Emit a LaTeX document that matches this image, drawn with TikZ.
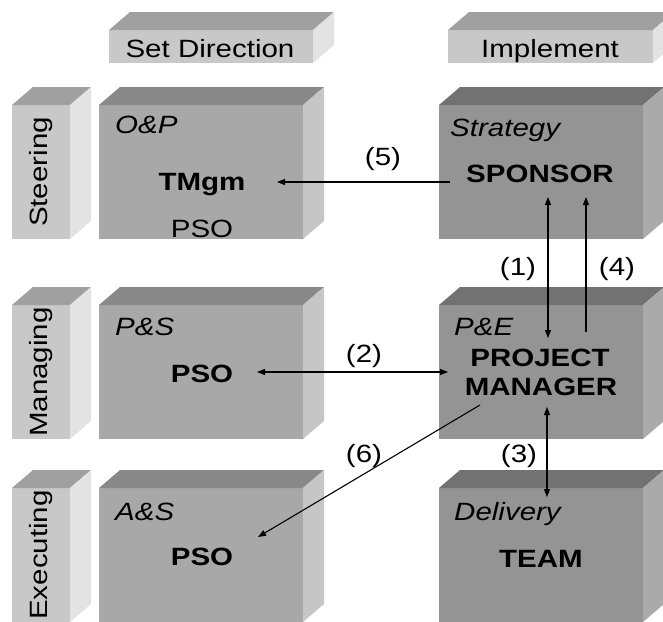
\documentclass[tikz,border=0pt]{standalone}
\usepackage{fontspec}
\setmainfont{Liberation Sans}[FakeStretch=1.18]
\usetikzlibrary{arrows.meta,calc}
\definecolor{lfront}{HTML}{C8C8C8}
\definecolor{ltop}{HTML}{A0A0A0}
\definecolor{lside}{HTML}{E3E3E3}
\definecolor{mfront}{HTML}{A8A8A8}
\definecolor{mtop}{HTML}{888888}
\definecolor{mside}{HTML}{C6C6C6}
\definecolor{dfront}{HTML}{949494}
\definecolor{dtop}{HTML}{727272}
\definecolor{dside}{HTML}{AAAAAA}
\newcommand{\mycube}[6]{%
  \node[facebox, fill=#6front, minimum width=#4pt, minimum height=#5pt, anchor=north west] (#1) at (#2,#3) {};
  \fill[#6top] (#1.north west) -- ++(21,-18) -- ++(#4,0) -- (#1.north east) -- cycle;
  \fill[#6side] (#1.north east) -- ++(21,-18) -- ++(0,#5) -- (#1.south east) -- cycle;
}
\begin{document}
\begin{tikzpicture}[x=1pt,y=-1pt,
  font=\fontsize{25}{30}\selectfont,
  facebox/.style={rectangle, draw=none, inner sep=0pt, outer sep=0pt},
  txt/.style={inner sep=0pt, anchor=base},
  ital/.style={inner sep=0pt, anchor=base west, font=\fontsize{25}{30}\selectfont\itshape},
  bld/.style={inner sep=0pt, anchor=base, font=\fontsize{25}{30}\selectfont\bfseries},
  vert/.style={inner sep=0pt, rotate=90},
  num/.style={inner sep=0pt, anchor=base},
  arr/.style={line width=1.1pt, -{Triangle[length=8pt,width=6pt]}},
  arrb/.style={line width=1.1pt, {Triangle[length=8pt,width=6pt]}-{Triangle[length=8pt,width=6pt]}}
]
\useasboundingbox (0,0) rectangle (663,621);
\clip (0,0) rectangle (663,621);
% header boxes
\mycube{hset}{109}{30}{204}{33}{l}
\mycube{himp}{448}{30}{205}{33}{l}
% row labels
\mycube{lsteer}{12}{105}{58}{134}{l}
\mycube{lmanage}{12}{305}{58}{134}{l}
\mycube{lexec}{12}{488}{58}{134}{l}
% left column
\mycube{bop}{99}{105}{204}{134}{m}
\mycube{bps}{99}{305}{204}{134}{m}
\mycube{bas}{99}{488}{204}{134}{m}
% right column
\mycube{bstrat}{439}{105}{204}{134}{d}
\mycube{bpe}{439}{305}{204}{134}{d}
\mycube{bdel}{439}{488}{204}{134}{d}
% header texts
\node[txt] (tset) at (210,57) {Set Direction};
\node[txt] (timp) at (550,57) {Implement};
% row label texts
\node[vert] (tsteer) at (lsteer.center) {Steering};
\node[vert] (tmanage) at (lmanage.center) {Managing};
\node[vert] (texec) at (lexec.center) {Executing};
% italic titles
\node[ital] (top) at (115,133) {O\&P};
\node[ital] (tps) at (115,335) {P\&S};
\node[ital] (tas) at (115,520) {A\&S};
\node[ital] (tstrat) at (450,136) {Strategy};
\node[ital] (tpe) at (454,335) {P\&E};
\node[ital] (tdel) at (454,520) {Delivery};
% bold names
\node[bld] (tmgm) at (202,190) {TMgm};
\node[txt] (pso1) at (202,237) {PSO};
\node[bld] (pso2) at (202,382) {PSO};
\node[bld] (pso3) at (202,565) {PSO};
\node[bld] (sponsor) at (540,182) {SPONSOR};
\node[bld] (project) at (540,366) {PROJECT};
\node[bld] (manager) at (541,395) {MANAGER};
\node[bld] (team) at (541,567) {TEAM};
% connectors
\draw[arr] ($(sponsor.base)+(-90,0)$) -- ($(tmgm.base)+(75,-8)$);
\draw[arrb] ($(sponsor.base)+(8,15)$) -- ($(project.base)+(8,-28)$);
\draw[arr] ($(project.base)+(46,-34)$) -- ($(sponsor.base)+(46,15)$);
\draw[arrb] ($(pso2.base)+(55,-10)$) -- ($(project.base)+(-92,6)$);
\draw[arrb] ($(manager.base)+(6,12)$) -- ($(team.base)+(6,-70)$);
\draw[arr] ($(manager.base)+(-61,10)$) -- ($(pso3.base)+(56,-28)$);
% connector labels
\node[num] (n5) at (383,165) {(5)};
\node[num] (n1) at (518,275) {(1)};
\node[num] (n4) at (617,275) {(4)};
\node[num] (n2) at (364,362) {(2)};
\node[num] (n6) at (364,462) {(6)};
\node[num] (n3) at (519,462) {(3)};
\end{tikzpicture}
\end{document}
